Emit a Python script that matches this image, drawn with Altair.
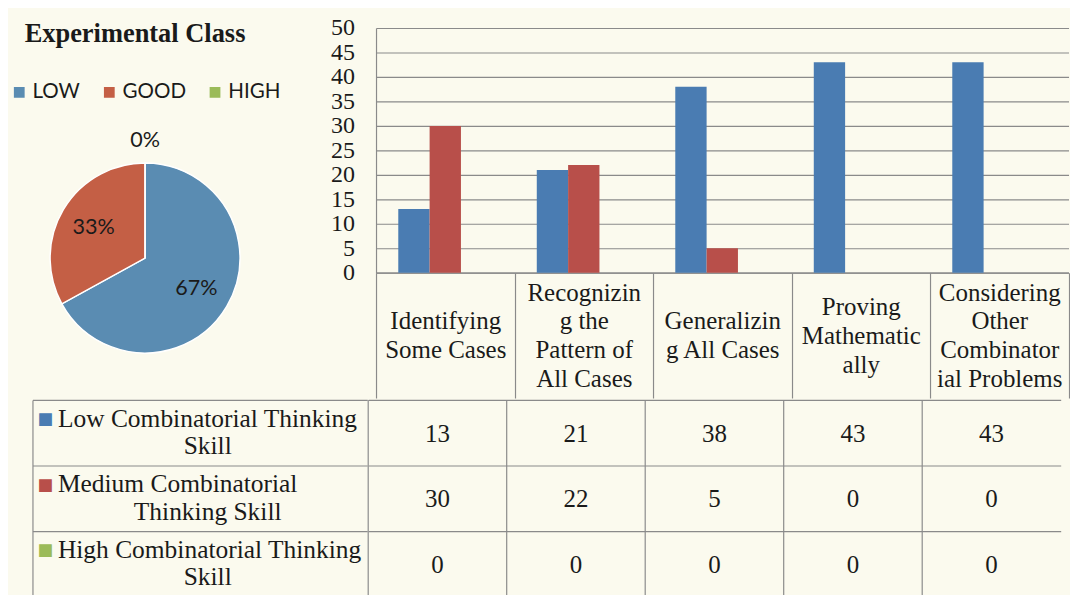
import altair as alt
import pandas as pd

# ---------------- data ----------------
categories = [
    "Identifying Some Cases",
    "Recognizing the Pattern of All Cases",
    "Generalizing All Cases",
    "Proving Mathematically",
    "Considering Other Combinatorial Problems",
]
header_lines = [
    ["Identifying", "Some Cases"],
    ["Recognizin", "g the", "Pattern of", "All Cases"],
    ["Generalizin", "g All Cases"],
    ["Proving", "Mathematic", "ally"],
    ["Considering", "Other", "Combinator", "ial Problems"],
]
series = [
    "Low Combinatorial Thinking Skill",
    "Medium Combinatorial Thinking Skill",
    "High Combinatorial Thinking Skill",
]
series_line1 = ["Low Combinatorial Thinking", "Medium Combinatorial", "High Combinatorial Thinking"]
series_line2 = ["Skill", "Thinking Skill", "Skill"]
low_values = [13, 21, 38, 43, 43]
medium_values = [30, 22, 5, 0, 0]
high_values = [0, 0, 0, 0, 0]

pie_labels = ["LOW", "GOOD", "HIGH"]
pie_values = [67, 33, 0]

# ---------------- styles ----------------
bar_colors = ["#4A7CB2", "#B84F4A", "#9BBB59"]
pie_colors = ["#5A8CB2", "#C45F45", "#9BBB59"]
SERIF = "Liberation Serif"
SANS = "Lato"
INK = "#1a1a1a"
LINE = "#8a8a8a"
COL_W = 141.5
ROW_H = 67

# ---------------- tables ----------------
rows = []
for r, (s, vals) in enumerate(zip(series, [low_values, medium_values, high_values])):
    for c, v in zip(categories, vals):
        rows.append({"series": s, "category": c, "value": v, "row": r})
bar_df = pd.DataFrame(rows)

lab_df = pd.DataFrame({
    "series": series,
    "line1": series_line1,
    "line2": series_line2,
    "row": list(range(len(series))),
})

pie_df = pd.DataFrame({
    "level": pie_labels,
    "value": pie_values,
    "order": list(range(len(pie_labels))),
})

# multi-line header labels
expr = "[]"
for cat, lines in reversed(list(zip(categories, header_lines))):
    arr = "[" + ",".join("'" + l + "'" for l in lines) + "]"
    expr = f"datum.value == '{cat}' ? {arr} : ({expr})"


def is_one_of(n):
    cats = [c for c, l in zip(categories, header_lines) if len(l) == n]
    return " || ".join(f"datum.value == '{c}'" for c in cats) or "false"


# vertical centring of 2-, 3- and 4-line header labels via baseline choice
header_baseline = {
    "condition": [
        {"test": is_one_of(2), "value": "line-top"},
        {"test": is_one_of(3), "value": "middle"},
    ],
    "value": "line-bottom",
}

# ---------------- pie panel ----------------
pie_base = alt.Chart(pie_df).transform_calculate(
    pct="datum.value + '%'"
).encode(
    theta=alt.Theta("value:Q", stack=True),
    order=alt.Order("order:Q"),
    x=alt.value(115),
    y=alt.value(235),
)
arcs = pie_base.mark_arc(radius=97, stroke="white", strokeWidth=1.5).encode(
    color=alt.Color(
        "level:N",
        sort=pie_labels,
        scale=alt.Scale(domain=pie_labels, range=pie_colors),
        legend=alt.Legend(
            orient="none", legendX=-24, legendY=55, direction="horizontal",
            title=None, symbolType="square", symbolSize=121, symbolStrokeWidth=0,
            labelFont=SANS, labelFontSize=21, labelColor=INK,
            columnPadding=19, labelOffset=3,
        ),
    )
)
in_labels = pie_base.mark_text(radius=61, font=SANS, fontSize=22, color=INK).encode(
    text="pct:N"
).transform_filter("datum.value > 0")
out_labels = pie_base.mark_text(radius=120, font=SANS, fontSize=22, color=INK).encode(
    text="pct:N"
).transform_filter("datum.value == 0")

pie = alt.layer(arcs, in_labels, out_labels).properties(
    width=303,
    height=378,
    title=alt.TitleParams(
        "Experimental Class", anchor="start", frame="group", dx=-8, offset=-20,
        font=SERIF, fontSize=27, fontWeight="bold", color=INK,
    ),
)

# ---------------- bar panel ----------------
bars = alt.Chart(bar_df).mark_bar().encode(
    x=alt.X(
        "category:N", sort=categories, title=None,
        scale=alt.Scale(paddingInner=0, paddingOuter=0),
        axis=alt.Axis(
            tickBand="extent", ticks=True, tickSize=128, tickColor=LINE, tickWidth=1.2,
            domain=True, domainColor=LINE, domainWidth=1.2,
            labelExpr=expr, labelAngle=0, labelAlign="center",
            labelBaseline=header_baseline,
            labelPadding=-93.1, labelFont=SERIF, labelFontSize=25.5, labelLineHeight=29.5,
            labelColor=INK, labelOverlap=False, labelLimit=0, grid=False,
        ),
    ),
    xOffset=alt.XOffset(
        "series:N", sort=series,
        scale=alt.Scale(paddingInner=0, paddingOuter=0.71),
    ),
    y=alt.Y(
        "value:Q", title=None,
        scale=alt.Scale(domain=[0, 50], nice=False),
        axis=alt.Axis(
            values=list(range(0, 51, 5)), grid=True, gridColor=LINE, gridWidth=1.2,
            ticks=False, domain=True, domainColor=LINE, domainWidth=1.2,
            labelFont=SERIF, labelFontSize=24.5, labelColor=INK, labelPadding=22,
            labelOverlap=False, minExtent=48, maxExtent=48,
        ),
    ),
    color=alt.Color("series:N", sort=series,
                    scale=alt.Scale(domain=series, range=bar_colors), legend=None),
).properties(width=COL_W * len(categories), height=250)

# ---------------- table: values ----------------
yscale = alt.Scale(domain=[0, len(series)], reverse=True, nice=False, zero=False)
xcat = alt.X("category:N", sort=categories, title=None,
             scale=alt.Scale(paddingInner=0, paddingOuter=0), axis=None)

vals_text = alt.Chart(bar_df).transform_calculate(
    yc="datum.row + 0.5"
).mark_text(font=SERIF, fontSize=25.5, color=INK, baseline="middle", dy=1).encode(
    x=xcat,
    y=alt.Y("yc:Q", scale=yscale, title=None,
            axis=alt.Axis(values=[0, 1, 2], grid=True, gridColor=LINE, gridWidth=1.2,
                          labels=False, ticks=False, domain=False)),
    text="value:Q",
)
vlines = alt.Chart(pd.DataFrame({"category": categories})).mark_rule(
    color=LINE, strokeWidth=1.2
).encode(
    x=alt.X("category:N", sort=categories, bandPosition=0, title=None,
            scale=alt.Scale(paddingInner=0, paddingOuter=0), axis=None),
    y=alt.datum(0),
    y2=alt.datum(len(series)),
)
values_panel = alt.layer(vlines, vals_text).properties(
    width=COL_W * len(categories), height=ROW_H * len(series))

# ---------------- table: row labels ----------------
lab_base = alt.Chart(lab_df).transform_calculate(yc="datum.row + 0.5")
ylab = alt.Y("yc:Q", scale=yscale, title=None,
             axis=alt.Axis(values=[0, 1, 2], grid=True, gridColor=LINE, gridWidth=1.2,
                           labels=False, ticks=False, domain=True, domainColor=LINE,
                           domainWidth=1.2, minExtent=25, maxExtent=25))
xlab_scale = alt.Scale(domain=[0, 1], nice=False)
squares = lab_base.mark_text(text="■", font="DejaVu Sans", fontSize=17, align="center",
                             baseline="middle", dx=13.5, dy=-14).encode(
    x=alt.X(datum=0, scale=xlab_scale, axis=None),
    y=ylab,
    color=alt.Color("series:N", sort=series,
                    scale=alt.Scale(domain=series, range=bar_colors), legend=None),
)
line1 = lab_base.mark_text(font=SERIF, fontSize=26, color=INK, align="left",
                           baseline="middle", dx=26, dy=-14).encode(
    x=alt.X(datum=0, scale=xlab_scale, axis=None), y=ylab, text="line1:N")
line2 = lab_base.mark_text(font=SERIF, fontSize=26, color=INK, align="center",
                           baseline="middle", dx=8, dy=14).encode(
    x=alt.X(datum=0.5, scale=xlab_scale, axis=None), y=ylab, text="line2:N")
labels_panel = alt.layer(squares, line1, line2).properties(width=342, height=ROW_H * len(series))

# ---------------- assemble ----------------
top = alt.hconcat(pie, bars, spacing=0).resolve_scale(color="independent")
bottom = alt.hconcat(labels_panel, values_panel, spacing=0).resolve_scale(color="independent")
chart = alt.vconcat(top, bottom, spacing=0).resolve_scale(color="independent").properties(
    padding={"left": 0, "top": 1, "right": 0, "bottom": 0},
    background="#FBFAEE",
).configure_view(strokeWidth=0)

chart.save("out.html", embed_options={"renderer": "svg", "actions": False})
